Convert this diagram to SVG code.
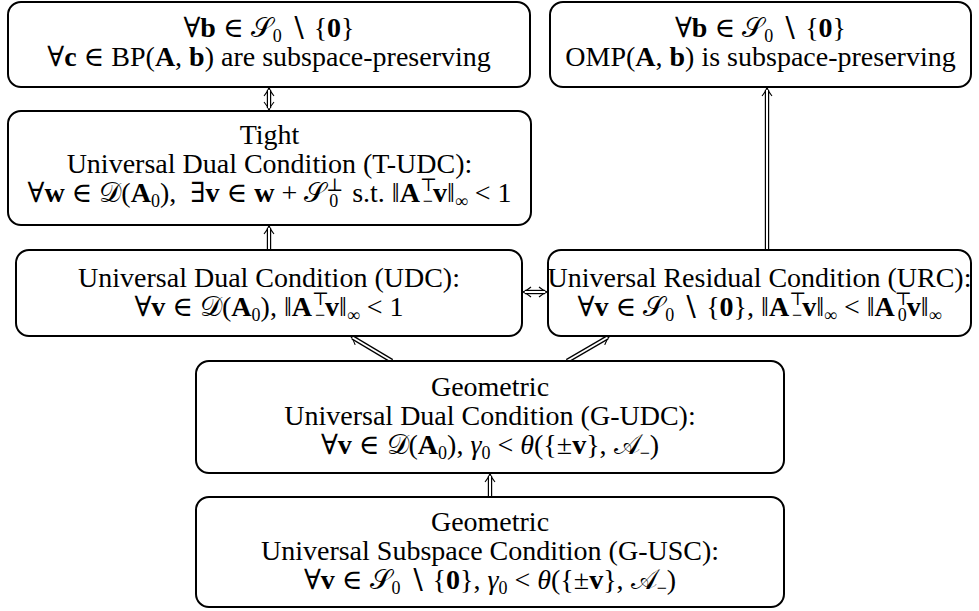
<svg xmlns="http://www.w3.org/2000/svg" width="979" height="611" viewBox="0 0 979 611">
<style>
.bg{fill:#fff}
.box{fill:#fff;stroke:#000;stroke-width:2}
.t{font-family:"Liberation Serif","DejaVu Serif",serif;font-size:28px;fill:#000;text-anchor:middle}
.b{font-weight:bold}
.i{font-style:italic}
.s{font-size:18px}
.out{stroke:#000;stroke-width:4.4;fill:none}
.in{stroke:#fff;stroke-width:2;fill:none}
</style>
<defs>
<marker id="imp" viewBox="0 0 12 12" refX="7.5" refY="6" markerWidth="12" markerHeight="12" markerUnits="userSpaceOnUse" orient="auto-start-reverse">
<path d="M1.5,1 Q6,5 10,6 Q6,7 1.5,11" fill="none" stroke="#000" stroke-width="1.1"/>
</marker>
</defs>
<rect class="bg" x="0" y="0" width="979" height="611"/>
<g id="connectors">
<path class="out" d="M269,90 L269,108" marker-start="url(#imp)" marker-end="url(#imp)"/>
<path class="in" d="M269,90 L269,108"/>
<path class="out" d="M269,250 L269,228" marker-end="url(#imp)"/>
<path class="in" d="M269,250 L269,228"/>
<path class="out" d="M767,249 L767,90" marker-end="url(#imp)"/>
<path class="in" d="M767,249 L767,90"/>
<path class="out" d="M525,292 L545,292" marker-start="url(#imp)" marker-end="url(#imp)"/>
<path class="in" d="M525,292 L545,292"/>
<path class="out" d="M392,361 L352.6,337.5" marker-end="url(#imp)"/>
<path class="in" d="M392,361 L352.6,337.5"/>
<path class="out" d="M567,361 L607.4,337.5" marker-end="url(#imp)"/>
<path class="in" d="M567,361 L607.4,337.5"/>
<path class="out" d="M490,497 L490,476" marker-end="url(#imp)"/>
<path class="in" d="M490,497 L490,476"/>
</g>
<g id="bp">
<rect class="box" x="8" y="2" width="522" height="85" rx="13"/>
<text class="t" x="269" y="37">∀<tspan class="b">b</tspan> ∈ 𝒮<tspan class="s" dy="5">0</tspan><tspan dy="-5"> ∖ {</tspan><tspan class="b">0</tspan>}</text>
<text class="t" x="269" y="66">∀<tspan class="b">c</tspan> ∈ BP(<tspan class="b">A</tspan>, <tspan class="b">b</tspan>) are subspace-preserving</text>
</g>
<g id="omp">
<rect class="box" x="550" y="2" width="421" height="85" rx="13"/>
<text class="t" x="760.5" y="37">∀<tspan class="b">b</tspan> ∈ 𝒮<tspan class="s" dy="5">0</tspan><tspan dy="-5"> ∖ {</tspan><tspan class="b">0</tspan>}</text>
<text class="t" x="760.5" y="66">OMP(<tspan class="b">A</tspan>, <tspan class="b">b</tspan>) is subspace-preserving</text>
</g>
<g id="tudc">
<rect class="box" x="8" y="111" width="523" height="114" rx="13"/>
<text class="t" x="269.5" y="144">Tight</text>
<text class="t" x="269.5" y="173">Universal Dual Condition (T-UDC):</text>
<text class="t" x="269.5" y="202">∀<tspan class="b">w</tspan> ∈ 𝒟(<tspan class="b">A</tspan><tspan class="s" dy="5">0</tspan><tspan dy="-5">),&#160;&#160;∃</tspan><tspan class="b">v</tspan> ∈ <tspan class="b">w</tspan> + 𝒮<tspan class="s" dy="-11">⊥</tspan><tspan class="s" dx="-14" dy="16">0</tspan><tspan dy="-5">&#160;&#160;s.t. ‖</tspan><tspan class="b">A</tspan><tspan class="s" dy="-11">⊤</tspan><tspan class="s" dx="-14" dy="16">−</tspan><tspan class="b" dy="-5">v</tspan>‖<tspan class="s" dy="5">∞</tspan><tspan dy="-5"> &lt; 1</tspan></text>
</g>
<g id="udc">
<rect class="box" x="16" y="250" width="506" height="86" rx="13"/>
<text class="t" x="269" y="287">Universal Dual Condition (UDC):</text>
<text class="t" x="269" y="316">∀<tspan class="b">v</tspan> ∈ 𝒟(<tspan class="b">A</tspan><tspan class="s" dy="5">0</tspan><tspan dy="-5">), ‖</tspan><tspan class="b">A</tspan><tspan class="s" dy="-11">⊤</tspan><tspan class="s" dx="-14" dy="16">−</tspan><tspan class="b" dy="-5">v</tspan>‖<tspan class="s" dy="5">∞</tspan><tspan dy="-5"> &lt; 1</tspan></text>
</g>
<g id="urc">
<rect class="box" x="548" y="250" width="423" height="86" rx="13"/>
<text class="t" x="759.5" y="287">Universal Residual Condition (URC):</text>
<text class="t" x="759.5" y="316">∀<tspan class="b">v</tspan> ∈ 𝒮<tspan class="s" dy="5">0</tspan><tspan dy="-5"> ∖ {</tspan><tspan class="b">0</tspan>}, ‖<tspan class="b">A</tspan><tspan class="s" dy="-11">⊤</tspan><tspan class="s" dx="-14" dy="16">−</tspan><tspan class="b" dy="-5">v</tspan>‖<tspan class="s" dy="5">∞</tspan><tspan dy="-5"> &lt; ‖</tspan><tspan class="b">A</tspan><tspan class="s" dy="-11">⊤</tspan><tspan class="s" dx="-14" dy="16">0</tspan><tspan class="b" dy="-5">v</tspan>‖<tspan class="s" dy="5">∞</tspan></text>
</g>
<g id="gudc">
<rect class="box" x="196" y="361" width="588" height="112" rx="13"/>
<text class="t" x="490" y="396">Geometric</text>
<text class="t" x="490" y="425">Universal Dual Condition (G-UDC):</text>
<text class="t" x="490" y="454">∀<tspan class="b">v</tspan> ∈ 𝒟(<tspan class="b">A</tspan><tspan class="s" dy="5">0</tspan><tspan dy="-5">), </tspan><tspan class="i">γ</tspan><tspan class="s" dy="5">0</tspan><tspan dy="-5"> &lt; </tspan><tspan class="i">θ</tspan>({±<tspan class="b">v</tspan>}, 𝒜<tspan class="s" dy="5">−</tspan><tspan dy="-5">)</tspan></text>
</g>
<g id="gusc">
<rect class="box" x="196" y="497" width="588" height="110" rx="13"/>
<text class="t" x="490" y="531">Geometric</text>
<text class="t" x="490" y="560">Universal Subspace Condition (G-USC):</text>
<text class="t" x="490" y="589">∀<tspan class="b">v</tspan> ∈ 𝒮<tspan class="s" dy="5">0</tspan><tspan dy="-5"> ∖ {</tspan><tspan class="b">0</tspan>}, <tspan class="i">γ</tspan><tspan class="s" dy="5">0</tspan><tspan dy="-5"> &lt; </tspan><tspan class="i">θ</tspan>({±<tspan class="b">v</tspan>}, 𝒜<tspan class="s" dy="5">−</tspan><tspan dy="-5">)</tspan></text>
</g>
</svg>
